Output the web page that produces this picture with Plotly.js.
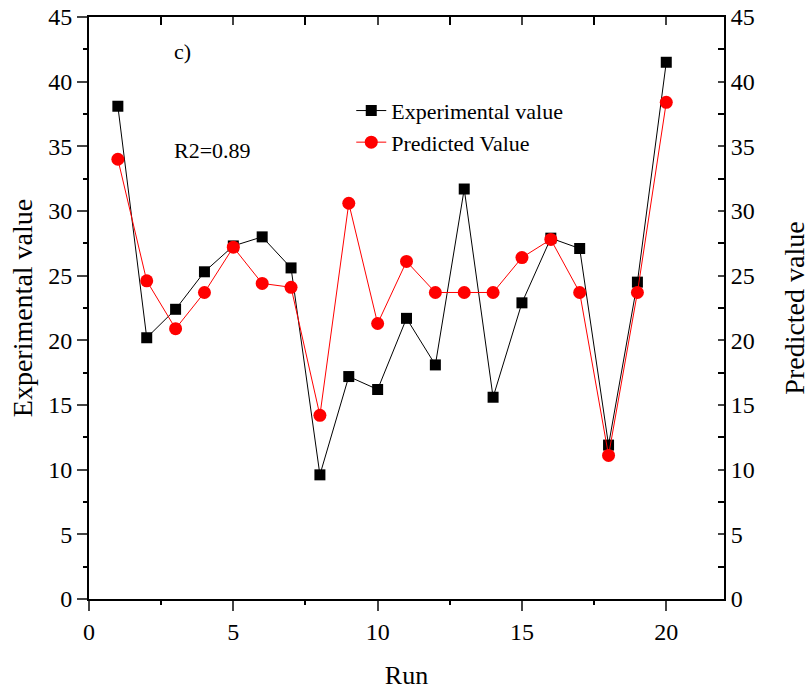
<!DOCTYPE html>
<html>
<head>
<meta charset="utf-8">
<script src="https://cdn.plot.ly/plotly-3.0.1.min.js"></script>
<style>html,body{margin:0;padding:0;background:#fff;}#chart{width:810px;height:693px;}</style>
</head>
<body>
<div id="chart"></div>
<script>
const runs = [1,2,3,4,5,6,7,8,9,10,11,12,13,14,15,16,17,18,19,20];
const experimental = [38.1,20.2,22.4,25.3,27.3,28.0,25.6,9.6,17.2,16.2,21.7,18.1,31.7,15.6,22.9,27.9,27.1,11.9,24.5,41.5];
const predicted = [34.0,24.6,20.9,23.7,27.2,24.4,24.1,14.2,30.6,21.3,26.1,23.7,23.7,23.7,26.4,27.8,23.7,11.1,23.7,38.4];
const xTicks = [0,5,10,15,20];
const yTicks = [0,5,10,15,20,25,30,35,40,45];

const font = "'Liberation Serif', 'Times New Roman', serif";

const traces = [
  {x: runs, y: experimental, name: 'Experimental value', type: 'scatter', mode: 'lines+markers',
   line: {color: '#000000', width: 1}, marker: {symbol: 'square', size: 11, color: '#000000'},
   xaxis: 'x', yaxis: 'y'},
  {x: runs, y: predicted, name: 'Predicted Value', type: 'scatter', mode: 'lines+markers',
   line: {color: '#ff0000', width: 1}, marker: {symbol: 'circle', size: 13, color: '#ff0000'},
   xaxis: 'x2', yaxis: 'y2'}
];

const layout = {
  width: 810, height: 693,
  margin: {l: 89, r: 86, t: 17, b: 94},
  paper_bgcolor: '#ffffff', plot_bgcolor: '#ffffff',
  font: {family: font, size: 22, color: '#000000'},
  showlegend: true,
  legend: {x: 0.413, y: 0.875, xanchor: 'left', yanchor: 'top', bgcolor: 'rgba(0,0,0,0)',
           font: {family: font, size: 22, color: '#000'}, tracegroupgap: 0},
  xaxis: {range: [0, 22], tickvals: xTicks, ticks: 'outside', ticklen: 10, tickwidth: 2,
          showline: true, linewidth: 2, linecolor: '#000', showgrid: false, zeroline: false,
          minor: {dtick: 2.5, ticks: 'outside', ticklen: 4, tickwidth: 2, tickcolor: '#000', showgrid: false},
          tickfont: {family: font, size: 24},
          title: {text: 'Run', font: {family: font, size: 26}, standoff: 22}},
  xaxis2: {range: [0, 22], overlaying: 'x', side: 'top', tickvals: xTicks, ticks: 'inside', ticklen: 8, tickwidth: 2,
           showline: true, linewidth: 2, linecolor: '#000', showgrid: false, zeroline: false, showticklabels: false,
           minor: {dtick: 2.5, ticks: 'inside', ticklen: 8, tickwidth: 2, tickcolor: '#000', showgrid: false}},
  yaxis: {range: [0, 45], tickvals: yTicks, ticks: 'outside', ticklen: 10, tickwidth: 2,
          showline: true, linewidth: 2, linecolor: '#000', showgrid: false, zeroline: false,
          minor: {dtick: 2.5, ticks: 'outside', ticklen: 4, tickwidth: 2, tickcolor: '#000', showgrid: false},
          tickfont: {family: font, size: 24},
          title: {text: 'Experimental value', font: {family: font, size: 28}, standoff: 7}},
  yaxis2: {range: [0, 45], overlaying: 'y', side: 'right', tickvals: yTicks, ticks: 'inside', ticklen: 6, tickwidth: 2,
           showline: true, linewidth: 2, linecolor: '#000', showgrid: false, zeroline: false,
           minor: {dtick: 2.5, ticks: 'inside', ticklen: 6, tickwidth: 2, tickcolor: '#000', showgrid: false},
           tickfont: {family: font, size: 24},
           title: {text: 'Predicted value', font: {family: font, size: 28}, standoff: 31}},
  annotations: [
    {text: 'c)', xref: 'paper', yref: 'paper', x: 0.148, y: 0.941, xanchor: 'center', yanchor: 'middle', showarrow: false,
     font: {family: font, size: 22, color: '#000'}},
    {text: 'R2=0.89', xref: 'paper', yref: 'paper', x: 0.194, y: 0.771, xanchor: 'center', yanchor: 'middle', showarrow: false,
     font: {family: font, size: 22, color: '#000'}}
  ]
};

Plotly.newPlot('chart', traces, layout, {displayModeBar: false, staticPlot: true});
</script>
</body>
</html>
